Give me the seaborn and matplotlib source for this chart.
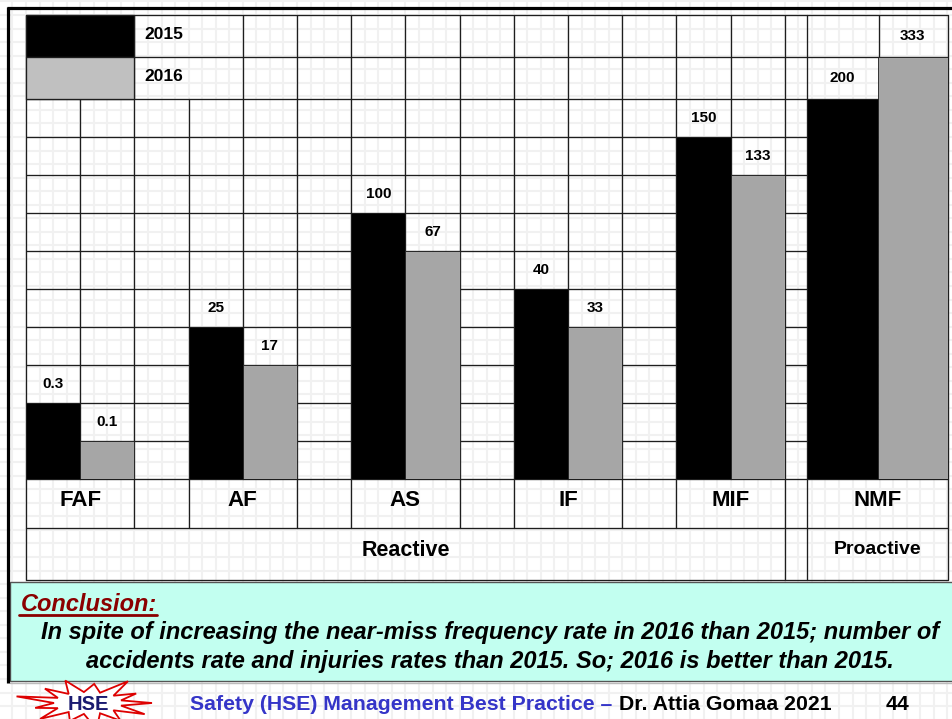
import numpy as np
import pandas as pd
import matplotlib
matplotlib.use("Agg")
import matplotlib.pyplot as plt
import seaborn as sns
from matplotlib.transforms import blended_transform_factory
from matplotlib.patches import Rectangle, Polygon

# ---------------- data ----------------
categories = ["FAF", "AF", "AS", "IF", "MIF", "NMF"]
reactive_categories = ["FAF", "AF", "AS", "IF", "MIF"]
proactive_categories = ["NMF"]
years = ["2015", "2016"]
values_2015 = [0.3, 25, 100, 40, 150, 200]
values_2016 = [0.1, 17, 67, 33, 133, 333]
# bar heights as drawn on the slide, counted in grid rows
rows_2015 = [2, 4, 7, 5, 9, 10]
rows_2016 = [1, 3, 6, 4, 8, 11]
group_labels = ["Reactive", "Proactive"]
conclusion_title = "Conclusion:"
conclusion_lines = [
    "In spite of increasing the near-miss frequency rate in 2016 than 2015; number of",
    "accidents rate and injuries rates than 2015. So; 2016 is better than 2015.",
]
footer_blue = "Safety (HSE) Management Best Practice \u2013"
footer_black = "Dr. Attia Gomaa 2021"
page_number = "44"
logo_text = "HSE"

# ---------------- layout helpers ----------------
W, H = 952, 719
ROW_EDGES = list(range(11)) + [10 + 42 / 38, 10 + 84 / 38]   # grid rows (top two rows taller)
PALETTE = {"2015": "#000000", "2016": "#a6a6a6"}
NARROW = ["Liberation Sans Narrow", "Liberation Sans", "DejaVu Sans"]
SANS = ["Liberation Sans", "DejaVu Sans"]

records = []
for cat, v15, v16, r15, r16 in zip(categories, values_2015, values_2016, rows_2015, rows_2016):
    for yr, v, r in (("2015", v15, r15), ("2016", v16, r16)):
        records.append({"category": cat, "year": yr, "value": v, "rows": r,
                        "height": ROW_EDGES[r],
                        "label_y": (ROW_EDGES[r] + ROW_EDGES[r + 1]) / 2})
df = pd.DataFrame(records)

sns.set_theme(style="white")
plt.rcParams["font.family"] = SANS
plt.rcParams["text.color"] = "black"

fig = plt.figure(figsize=(W / 100, H / 100), dpi=100)
fig.patch.set_facecolor("white")
bg = fig.add_axes([0, 0, 1, 1])
bg.set_xlim(0, W)
bg.set_ylim(H, 0)
bg.axis("off")
bg.set_zorder(0)

# faint graph-paper background
step = 13.55
for x in np.arange(26 - 2 * step, W + step, step):
    bg.axvline(x, color="#f1f1f1", lw=1.5, zorder=0)
for y in np.arange(15 - step, H + step, step):
    bg.axhline(y, color="#f1f1f1", lw=1.5, zorder=0)

# table geometry (pixels)
cols = [26 + 54.2 * k for k in range(15)] + [807, 879, 948]
rows_px = [15, 57, 99] + [99 + 38 * k for k in range(1, 11)] + [528, 580]
LC, LW = "#1e1e1e", 0.95
for y in rows_px:
    bg.plot([26, 948], [y, y], color=LC, lw=LW, zorder=1, solid_capstyle="butt")
for x in cols:
    bg.plot([x, x], [99, 479], color=LC, lw=LW, zorder=1)
for i, x in enumerate(cols):
    if i not in (1, 3):
        bg.plot([x, x], [15, 99], color=LC, lw=LW, zorder=1)
for i in (0, 2, 3, 5, 6, 8, 9, 11, 12, 14, 15, 17):
    bg.plot([cols[i], cols[i]], [479, 528], color=LC, lw=LW, zorder=1)
for i in (0, 14, 15, 17):
    bg.plot([cols[i], cols[i]], [528, 580], color=LC, lw=LW, zorder=1)

# legend boxes
bg.add_patch(Rectangle((26, 15), cols[2] - 26, 42, facecolor="#000000", edgecolor=LC, lw=LW, zorder=2))
bg.add_patch(Rectangle((26, 57), cols[2] - 26, 42, facecolor="#c0c0c0", edgecolor=LC, lw=LW, zorder=2))
for yr, yc in zip(years, (34.5, 76.5)):
    bg.text(cols[2] + 10, yc, yr, fontsize=12.5, fontweight="bold", va="center", ha="left",
            family=SANS, color="black", zorder=3)

# outer frame
bg.plot([8, 8], [7, 683], color="black", lw=2.3, zorder=5, solid_capstyle="butt")
bg.plot([7, W], [8, 8], color="black", lw=2.3, zorder=5, solid_capstyle="butt")


def px_axes(x0, x1, y_top, y_bot):
    return fig.add_axes([x0 / W, 1 - y_bot / H, (x1 - x0) / W, (y_bot - y_top) / H])


axL = px_axes(cols[0], cols[14], 15, 479)
axR = px_axes(807, 948, 15, 479)
for ax, cats, width, xlim in ((axL, reactive_categories, 2 / 3, (-1 / 3, 13 / 3)),
                              (axR, proactive_categories, 1.0, (-0.5, 0.5))):
    sub = df[df["category"].isin(cats)]
    sns.barplot(data=sub, x="category", y="height", hue="year", order=cats,
                hue_order=years, palette=PALETTE, saturation=1, width=width,
                errorbar=None, legend=False, edgecolor="#1e1e1e", linewidth=0.6, ax=ax)
    ax.set_xlim(*xlim)
    ax.set_ylim(0, ROW_EDGES[-1])
    ax.set_axis_off()
    ax.patch.set_visible(False)
    ax.set_zorder(2)
    # value labels in the grid cell directly above each bar
    for container, yr in zip(ax.containers, years):
        for bar in container:
            xc = bar.get_x() + bar.get_width() / 2
            cat = cats[int(round(xc))]
            rec = df[(df["category"] == cat) & (df["year"] == yr)].iloc[0]
            ax.text(xc, rec["label_y"], f"{rec['value']:g}", ha="center", va="center",
                    fontsize=11, fontweight="bold", family=SANS, color="black")
    # category labels in the row under the bars
    tr = blended_transform_factory(ax.transData, bg.transData)
    for i, cat in enumerate(cats):
        ax.text(i, 501, cat, transform=tr, ha="center", va="center", fontsize=16,
                fontweight="bold", family=SANS, color="black", clip_on=False)

bg.text((cols[0] + cols[14]) / 2, 550, group_labels[0], ha="center", va="center",
        fontsize=15.5, fontweight="bold", family=SANS, color="black", zorder=3)
bg.text((807 + 948) / 2, 549, group_labels[1], ha="center", va="center",
        fontsize=14, fontweight="bold", family=SANS, color="black", zorder=3)

# conclusion box
bg.add_patch(Rectangle((10, 582), W, 99, facecolor="#c2fff0", edgecolor="#555555", lw=1.0, zorder=4))
bg.plot([10, W], [683, 683], color="#bbbbbb", lw=1.0, zorder=4)
t_title = bg.text(21, 611, conclusion_title, ha="left", va="baseline", fontsize=17,
                  fontweight="bold", fontstyle="italic", color="#8b0000", family=NARROW, zorder=5)
for line, yb in zip(conclusion_lines, (639, 668)):
    bg.text(490, yb, line, ha="center", va="baseline", fontsize=17, fontweight="bold",
            fontstyle="italic", color="black", family=NARROW, zorder=5)

# footer logo (starburst)
cx, cy = 88, 703
n = 13
mult = [1.0, 0.85, 1.1, 0.8, 1.0, 0.9, 1.15, 0.85, 1.0, 0.8, 1.1, 0.9, 1.0]
pts = []
for i in range(2 * n):
    a = np.pi * i / n
    if i % 2 == 0:
        rx, ry = 64 * mult[(i // 2) % n], 24 * mult[(i // 2) % n]
    else:
        rx, ry = 34, 11
    pts.append((cx + rx * np.cos(a), cy - ry * np.sin(a)))
bg.add_patch(Polygon(pts, closed=True, facecolor="white", edgecolor="#dd0000", lw=1.3, zorder=5))
bg.text(cx, 710, logo_text, ha="center", va="baseline", fontsize=14.5, fontweight="bold",
        color="#1a1a70", family=SANS, zorder=6)

t_blue = bg.text(190, 710, footer_blue, ha="left", va="baseline", fontsize=15.3,
                 fontweight="bold", color="#3535c8", family=NARROW, zorder=5)
fig.canvas.draw()
r = fig.canvas.get_renderer()
bb = t_blue.get_window_extent(r)
x_end = bg.transData.inverted().transform((bb.x1, bb.y0))[0]
bg.text(x_end + 7, 710, footer_black, ha="left", va="baseline", fontsize=15.3,
        fontweight="bold", color="black", family=NARROW, zorder=5)
bg.text(898, 710, page_number, ha="center", va="baseline", fontsize=15.3,
        fontweight="bold", color="black", family=NARROW, zorder=5)

# underline for conclusion title
bbt = t_title.get_window_extent(r)
inv = bg.transData.inverted()
x0 = inv.transform((bbt.x0, bbt.y0))[0]
x1 = inv.transform((bbt.x1, bbt.y0))[0]
bg.plot([x0 - 2, x1], [615, 615], color="#8b0000", lw=2.0, zorder=5)

fig.savefig("out.png", dpi=100, facecolor="white")
